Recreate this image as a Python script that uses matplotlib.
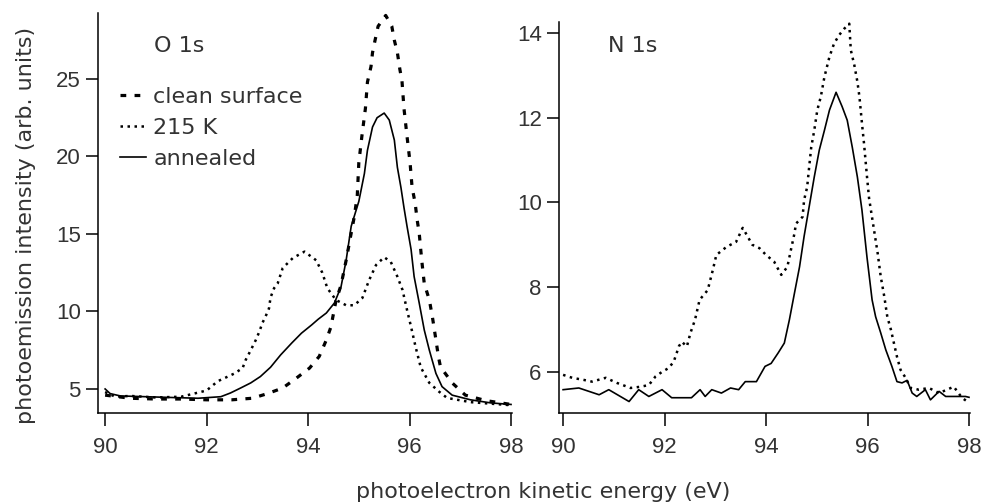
import matplotlib
matplotlib.use("Agg")
from matplotlib import pyplot as plt

plt.rcParams['font.family'] = ['Liberation Sans', 'DejaVu Sans']
plt.rcParams['font.size'] = 16

# O 1s spectra (kinetic energy in eV, intensity in arb. units)
o1s_clean_e = [90.0, 90.5, 91.0, 91.5, 92.0, 92.5, 92.9, 93.2, 93.5, 93.77, 94.03, 94.22, 94.36, 94.45, 94.55,
               94.65, 94.75, 94.85, 94.91, 94.97, 95.0, 95.06, 95.13, 95.17, 95.24, 95.27, 95.32, 95.38, 95.53,
               95.65, 95.70, 95.76, 95.81, 95.85, 95.89, 95.95, 96.01, 96.05, 96.11, 96.15, 96.19, 96.24, 96.29,
               96.39, 96.45, 96.52, 96.57, 96.61, 96.84, 97.1, 97.5, 98.0]
o1s_clean_i = [4.6, 4.4, 4.35, 4.35, 4.3, 4.3, 4.4, 4.7, 5.06, 5.7, 6.35, 7.1, 8.16, 9.0, 10.7,
               11.7, 13.3, 15.06, 16.1, 17.5, 19.6, 21.3, 23.1, 24.8, 25.8, 26.7, 27.5, 28.4, 29.1,
               28.4, 27.5, 26.7, 25.6, 24.9, 23.1, 21.3, 19.6, 18.0, 17.0, 15.9, 15.06, 13.3, 11.8,
               10.74, 9.65, 8.16, 7.06, 6.42, 5.39, 4.6, 4.25, 4.0]

o1s_215_e = [90.0, 90.2, 90.5, 91.0, 91.5, 92.0, 92.22, 92.42, 92.55, 92.71, 92.77, 92.87, 92.97, 93.04, 93.1,
             93.16, 93.23, 93.26, 93.33, 93.4, 93.5, 93.7, 93.93, 94.16, 94.28, 94.38, 94.55, 94.75, 94.91,
             95.07, 95.2, 95.34, 95.5, 95.63, 95.76, 95.86, 95.95, 96.03, 96.12, 96.22, 96.39, 96.58, 96.74,
             97.2, 97.6, 98.0]
o1s_215_i = [4.8, 4.5, 4.55, 4.45, 4.5, 4.9, 5.5, 5.8, 6.0, 6.35, 6.87, 7.5, 8.16, 8.7, 9.26,
             9.66, 10.2, 10.9, 11.5, 11.8, 12.8, 13.45, 13.86, 13.3, 12.5, 11.5, 10.74, 10.4, 10.4,
             10.87, 12.0, 13.0, 13.5, 13.2, 12.25, 11.4, 10.1, 9.0, 7.7, 6.4, 5.39, 4.83, 4.42,
             4.15, 4.05, 3.95]

o1s_ann_e = [90.0, 90.1, 90.3, 90.8, 91.3, 91.83, 92.28, 92.47, 92.67, 92.87, 93.06, 93.26, 93.46, 93.68, 93.87,
             94.07, 94.2, 94.36, 94.52, 94.65, 94.75, 94.85, 95.0, 95.11, 95.17, 95.27, 95.36, 95.5, 95.6,
             95.7, 95.76, 95.83, 95.89, 95.95, 96.03, 96.09, 96.19, 96.29, 96.39, 96.52, 96.64, 96.84, 97.2,
             97.6, 98.0]
o1s_ann_i = [5.0, 4.7, 4.55, 4.5, 4.45, 4.4, 4.5, 4.74, 5.06, 5.39, 5.8, 6.4, 7.2, 7.97, 8.6,
             9.13, 9.5, 9.9, 10.55, 11.6, 13.3, 15.5, 17.1, 18.9, 20.4, 21.9, 22.5, 22.8, 22.35,
             21.06, 19.3, 18.0, 16.7, 15.5, 14.0, 12.25, 10.55, 8.8, 7.5, 6.0, 5.15, 4.6, 4.3,
             4.1, 4.0]

# N 1s spectra
n1s_215_e = [90.0, 90.18, 90.41, 90.57, 90.84, 91.06, 91.33, 91.53, 91.69, 91.82, 91.95, 92.08, 92.18, 92.24,
             92.28, 92.34, 92.44, 92.51, 92.6, 92.69, 92.85, 92.95, 93.02, 93.22, 93.41, 93.54, 93.73, 93.87,
             94.0, 94.16, 94.3, 94.42, 94.49, 94.56, 94.59, 94.72, 94.75, 94.81, 94.85, 94.89, 94.95, 95.01,
             95.08, 95.15, 95.25, 95.34, 95.44, 95.54, 95.64, 95.67, 95.74, 95.8, 95.84, 95.89, 95.93, 95.99,
             96.03, 96.2, 96.26, 96.33, 96.39, 96.46, 96.52, 96.58, 96.65, 96.75, 96.85, 97.01, 97.21, 97.41,
             97.7, 97.86, 98.0]
n1s_215_i = [5.93, 5.86, 5.81, 5.77, 5.86, 5.74, 5.62, 5.65, 5.69, 5.89, 6.0, 6.09, 6.24, 6.45,
             6.6, 6.71, 6.6, 6.92, 7.23, 7.7, 7.93, 8.4, 8.76, 8.95, 9.07, 9.4, 9.0, 8.92,
             8.76, 8.6, 8.29, 8.48, 8.88, 9.27, 9.5, 9.66, 10.06, 10.36, 10.84, 11.3, 11.7, 12.18,
             12.5, 12.96, 13.44, 13.75, 13.95, 14.1, 14.22, 13.6, 13.24, 12.85, 12.5, 11.87, 11.4, 10.6,
             10.1, 8.8, 8.25, 7.78, 7.3, 7.0, 6.68, 6.36, 6.05, 5.86, 5.62, 5.58, 5.62, 5.5,
             5.65, 5.39, 5.27]

n1s_ann_e = [90.0, 90.31, 90.71, 90.9, 91.3, 91.49, 91.69, 91.95, 92.14, 92.53, 92.7, 92.8, 92.93, 93.12, 93.3,
             93.46, 93.59, 93.81, 93.98, 94.1, 94.24, 94.36, 94.46, 94.56, 94.66, 94.75, 94.85, 94.95, 95.05,
             95.15, 95.25, 95.38, 95.5, 95.6, 95.7, 95.8, 95.89, 95.99, 96.09, 96.16, 96.26, 96.36, 96.48,
             96.58, 96.68, 96.78, 96.88, 96.97, 97.14, 97.24, 97.41, 97.54, 97.73, 97.93, 98.0]
n1s_ann_i = [5.58, 5.62, 5.46, 5.58, 5.3, 5.58, 5.42, 5.58, 5.39, 5.39, 5.58, 5.42, 5.58, 5.5, 5.62,
             5.58, 5.77, 5.77, 6.13, 6.2, 6.45, 6.68, 7.23, 7.86, 8.48, 9.2, 9.9, 10.6, 11.24,
             11.7, 12.18, 12.6, 12.26, 11.94, 11.3, 10.6, 9.82, 8.7, 7.7, 7.3, 6.92, 6.52, 6.13,
             5.77, 5.74, 5.8, 5.5, 5.42, 5.58, 5.34, 5.54, 5.42, 5.42, 5.42, 5.4]

x_ticks = [90, 92, 94, 96, 98]
o1s_yticks = [5, 10, 15, 20, 25]
n1s_yticks = [6, 8, 10, 12, 14]

clean_style = dict(color='black', lw=2.3, linestyle=(0, (1.8, 2.6)))
k215_style = dict(color='black', lw=1.8, linestyle=(0, (1.0, 1.8)))
ann_style = dict(color='black', lw=1.2, linestyle='-')

text_color = '#333333'
label_font = ['DejaVu Sans']

fig = plt.figure(figsize=(9.87, 5.04), dpi=100)
ax1 = fig.add_axes([0.0993, 0.1806, 0.4195, 0.7937])
ax2 = fig.add_axes([0.5664, 0.1806, 0.4164, 0.7758])

ax1.plot(o1s_clean_e, o1s_clean_i, label='clean surface', **clean_style)
ax1.plot(o1s_215_e, o1s_215_i, label='215 K', **k215_style)
ax1.plot(o1s_ann_e, o1s_ann_i, label='annealed', **ann_style)
ax1.set_xlim(89.86, 98.02)
ax1.set_ylim(3.45, 29.26)
ax1.set_yticks(o1s_yticks)

ax2.plot(n1s_215_e, n1s_215_i, **k215_style)
ax2.plot(n1s_ann_e, n1s_ann_i, **ann_style)
ax2.set_xlim(89.92, 98.02)
ax2.set_ylim(5.03, 14.26)
ax2.set_yticks(n1s_yticks)

for ax in (ax1, ax2):
    ax.set_xticks(x_ticks)
    ax.spines['top'].set_visible(False)
    ax.spines['right'].set_visible(False)
    ax.spines['left'].set_linewidth(1.1)
    ax.spines['bottom'].set_linewidth(1.1)
    ax.tick_params(axis='x', direction='out', length=9.5, width=1.1, pad=8, labelcolor=text_color)
    ax.tick_params(axis='y', direction='out', length=8.5, width=1.1, pad=4, labelcolor=text_color)

ax1.text(0.136, 0.9025, 'O 1s', transform=ax1.transAxes, color=text_color, family=label_font)
ax2.text(0.120, 0.923, 'N 1s', transform=ax2.transAxes, color=text_color, family=label_font)

leg = ax1.legend(loc='upper left', bbox_to_anchor=(0.053, 0.815), frameon=False,
                 handlelength=1.15, handletextpad=0.35, labelspacing=0.5,
                 borderpad=0, borderaxespad=0, prop={'family': label_font, 'size': 16})
for t in leg.get_texts():
    t.set_color(text_color)

fig.text(0.0263, 0.552, 'photoemission intensity (arb. units)', rotation=90,
         ha='center', va='center', color=text_color, family=label_font)
fig.text(0.550, 0.024, 'photoelectron kinetic energy (eV)', ha='center', va='center',
         color=text_color, family=label_font)

fig.savefig('out.png', dpi=100)
